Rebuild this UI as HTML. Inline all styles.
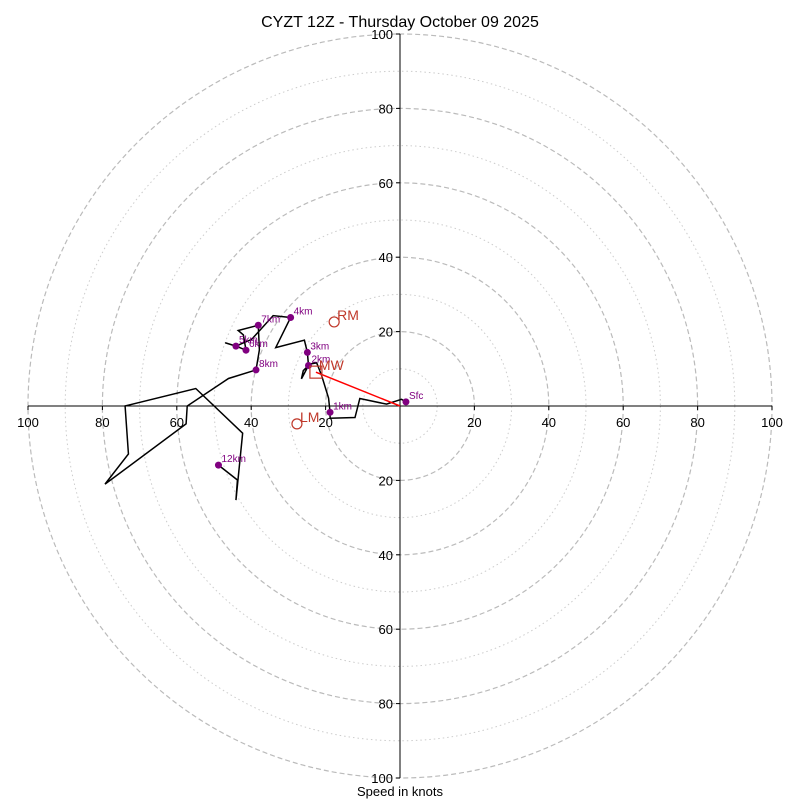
<!DOCTYPE html>
<html><head><meta charset="utf-8"><style>
body{margin:0;background:#fff;}
svg{display:block;font-family:"Liberation Sans","DejaVu Sans",sans-serif;}
</style></head><body>
<svg id="chart" width="800" height="800" viewBox="0 0 800 800">
<text x="400" y="27" text-anchor="middle" font-size="16">CYZT 12Z - Thursday October 09 2025</text>
<text x="400" y="796" text-anchor="middle" font-size="13">Speed in knots</text>
<g id="rings"></g><g id="axes"></g><g id="trace"></g><g id="marks"></g>
</svg>
<script>
const ringValues=[10,20,30,40,50,60,70,80,90,100];
const tickLabels=[20,40,60,80,100];
const traceU=[1.6,0.4,-3.6,-10.8,-12.1,-18.8,-18.8,-19.2,-21.1,-22.4,-24.2,-26.0,-26.5,-25.8,-24.6,-24.9,-25.7,-33.4,-29.4,-34.1,-39.9,-44.1,-47.0,-44.1,-41.4,-42.1,-43.5,-38.1,-37.8,-38.7,-46.1,-57.2,-57.5,-79.3,-73.0,-73.9,-54.9,-42.3,-44.1,-43.7,-48.8];
const traceV=[1.1,1.8,0.5,2.0,-3.1,-3.3,-1.7,2.1,8.3,11.6,11.3,9.5,7.3,8.6,10.9,14.4,17.7,15.7,23.8,24.3,17.9,16.1,17.0,16.1,15.0,19.1,20.3,21.7,15.1,9.7,7.4,0,-4.8,-21.0,-12.9,0,4.7,-7.3,-25.3,-19.9,-15.9];
const levelNames=["Sfc","1km","2km","3km","4km","5km","6km","7km","8km","12km"];
const levelU=[1.6,-18.8,-24.6,-24.9,-29.4,-44.1,-41.4,-38.1,-38.7,-48.8];
const levelV=[1.1,-1.7,10.9,14.4,23.8,16.1,15.0,21.7,9.7,-15.9];
const motionNames=["RM","LM","MW"];
const motionU=[-17.7,-27.7,-22.6];
const motionV=[22.6,-4.8,9.1];
const CX=400,CY=406,S=3.72;
const sx=u=>CX+u*S, sy=v=>CY-v*S;
const NS="http://www.w3.org/2000/svg";
function mk(tag,parent,attrs){const e=document.createElementNS(NS,tag);for(const k in attrs)e.setAttribute(k,attrs[k]);document.getElementById(parent).appendChild(e);return e;}
ringValues.forEach(r=>{
 const c=mk('circle','rings',{cx:CX,cy:CY,r:r*S,fill:'none',stroke:r%20===0?'#bbb':'#ccc','stroke-width':r%20===0?1.2:1,'stroke-dasharray':r%20===0?'5,3':'1.5,3'});
 
 
});
let a=mk('line','axes',{x1:sx(-100),y1:CY,x2:sx(100),y2:CY,stroke:'#000','stroke-width':1});


a=mk('line','axes',{x1:CX,y1:sy(100),x2:CX,y2:sy(-100),stroke:'#000','stroke-width':1});


tickLabels.forEach(t=>{
 [-1,1].forEach(sg=>{
  mk('line','axes',{x1:sx(sg*t),y1:CY,x2:sx(sg*t),y2:CY+4,stroke:'#000'});
  let tx=mk('text','axes',{x:sx(sg*t),y:CY+21,'text-anchor':'middle','font-size':13});
  tx.textContent=t;
  
  
  mk('line','axes',{x1:CX-4,y1:sy(sg*t),x2:CX,y2:sy(sg*t),stroke:'#000'});
  let ty=mk('text','axes',{x:CX-7,y:sy(sg*t)+5,'text-anchor':'end','font-size':13});
  ty.textContent=t;
  
  
 });
});
let pl=mk('polyline','trace',{points:traceU.map((u,i)=>sx(u)+','+sy(traceV[i])).join(' '),fill:'none',stroke:'#000','stroke-width':1.5});


let rl=mk('line','trace',{x1:sx(motionU[2]),y1:sy(motionV[2]),x2:CX,y2:CY,stroke:'red','stroke-width':1.5});


levelNames.forEach((n,i)=>{
 let d=mk('circle','marks',{cx:sx(levelU[i]),cy:sy(levelV[i]),r:3.5,fill:'purple'});
 
 
 let t=mk('text','marks',{x:sx(levelU[i])+3,y:sy(levelV[i])-3,'font-size':10,fill:'purple'});
 t.textContent=n;
 
 
});
motionNames.forEach((n,i)=>{
 const x=sx(motionU[i]),y=sy(motionV[i]);
 let m=n==='MW'?mk('rect','marks',{x:x-6,y:y-6,width:12,height:12,fill:'none',stroke:'#c0392b','stroke-width':1.2})
   :mk('circle','marks',{cx:x,cy:y,r:5,fill:'none',stroke:'#c0392b','stroke-width':1.2});
 
 
 let t=mk('text','marks',{x:x+3,y:y-2,'font-size':14,fill:'#c0392b'});
 t.textContent=n;
 
 
});
</script>
</body></html>
